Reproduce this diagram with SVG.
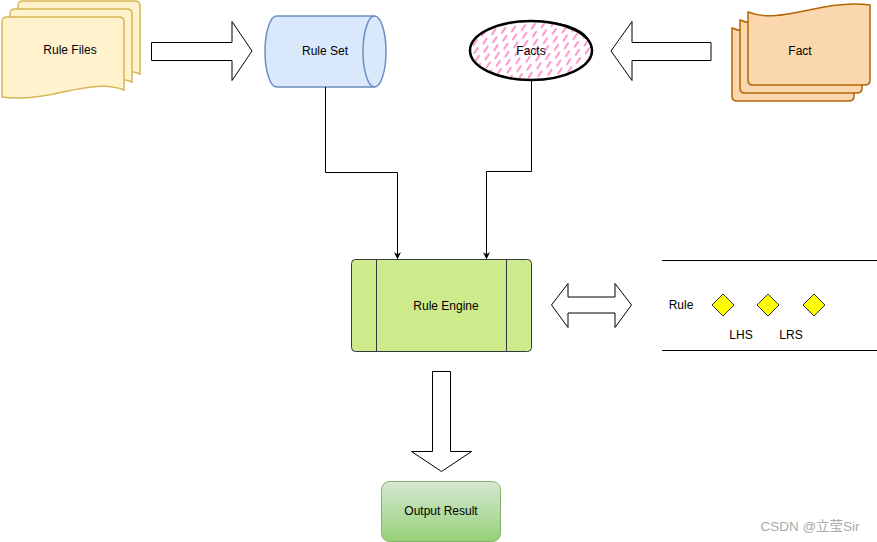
<svg xmlns="http://www.w3.org/2000/svg" width="877" height="542" viewBox="0 0 877 542">
<style>
text{font-family:"Liberation Sans",Arial,sans-serif;font-size:12px;fill:#000;text-anchor:middle;dominant-baseline:central}
.blk{fill:#fff;stroke:#000;stroke-width:1}
.conn{fill:none;stroke:#000;stroke-width:1}
.rf{fill:#fff2cc;stroke:#d6b656;stroke-width:1.5}
.ft{fill:#fad7ac;stroke:#b46504;stroke-width:1.5}
</style>
<defs>
<path id="page" d="M5,0 H117 Q122,0 122,5 V73 C105,66 85,70 61,75 C40,80 20,83 0,80 V5 Q0,0 5,0 Z"/>
<marker id="ah" viewBox="0 0 10 10" refX="9" refY="5" markerWidth="7" markerHeight="7" orient="auto" markerUnits="userSpaceOnUse"><path d="M0,0 L10,5 L0,10 L3,5 Z" fill="#000"/></marker>
<pattern id="hatch" width="10" height="8" patternUnits="userSpaceOnUse" patternTransform="rotate(-8)">
<line x1="2.5" y1="6.5" x2="6.5" y2="2" stroke="#ff80bf" stroke-width="1.8" stroke-linecap="round"/>
</pattern>
<linearGradient id="og" x1="0" y1="0" x2="0" y2="1"><stop offset="0" stop-color="#d5e8d4"/><stop offset="1" stop-color="#97d077"/></linearGradient>
</defs>

<g id="rule-files">
<use href="#page" x="18" y="1" class="rf"/>
<use href="#page" x="10" y="9" class="rf"/>
<use href="#page" x="2" y="17" class="rf"/>
<text x="70" y="50">Rule Files</text>
</g>

<g id="arrow-right">
<path class="blk" d="M151.5,42.5 H232 V21.5 L252,51 L232,80.5 V60.5 H151.5 Z"/>
</g>

<g id="rule-set">
<path d="M276.5,16 H374.5 A11.5,35.5 0 0 1 374.5,87 H276.5 A11.5,35.5 0 0 1 276.5,16 Z" fill="#dae8fc" stroke="#6c8ebf" stroke-width="1.5"/>
<path d="M374.5,16 A11.5,35.5 0 0 0 374.5,87" fill="none" stroke="#6c8ebf" stroke-width="1.5"/>
<text x="325" y="51">Rule Set</text>
</g>

<g id="facts">
<ellipse cx="531" cy="50.5" rx="61" ry="29.5" fill="#fff"/>
<ellipse cx="531" cy="50.5" rx="60" ry="28.5" fill="url(#hatch)"/>
<ellipse cx="531" cy="50.5" rx="61" ry="29.5" fill="none" stroke="#000" stroke-width="2.5"/>
<path d="M540,21.5 C565,22 590,30 591,48" fill="none" stroke="#000" stroke-width="1.2"/>
<text x="531" y="51">Facts</text>
</g>

<g id="arrow-left">
<path class="blk" d="M711,42.5 H632 V21.5 L611,51 L632,80.5 V60.5 H711 Z"/>
</g>

<g id="fact">
<use href="#page" transform="translate(854,101) rotate(180)" class="ft"/>
<use href="#page" transform="translate(862,93) rotate(180)" class="ft"/>
<use href="#page" transform="translate(870,85) rotate(180)" class="ft"/>
<text x="800" y="51">Fact</text>
</g>

<g id="connectors">
<path class="conn" d="M325.5,87 V172.5 H397.5 V258.5" marker-end="url(#ah)"/>
<path class="conn" d="M531.5,80 V171.5 H486.5 V258.5" marker-end="url(#ah)"/>
</g>

<g id="rule-engine">
<rect x="351.5" y="259.5" width="180" height="92" rx="4" fill="#cdeb8b" stroke="#36393d" stroke-width="1"/>
<line x1="376.5" y1="259.5" x2="376.5" y2="351.5" stroke="#36393d"/>
<line x1="506.5" y1="259.5" x2="506.5" y2="351.5" stroke="#36393d"/>
<text x="446" y="306">Rule Engine</text>
</g>

<g id="arrow-double">
<path class="blk" d="M551.5,305 L568,283.5 V297 H615 V283.5 L631.5,305 L615,327.5 V313 H568 V327.5 Z"/>
</g>

<g id="rule-panel">
<line x1="662" y1="260.5" x2="877" y2="260.5" stroke="#000"/>
<line x1="662" y1="350.5" x2="877" y2="350.5" stroke="#000"/>
<text x="681" y="305">Rule</text>
<path d="M723,294 L734,305 L723,316 L712,305 Z" fill="#ffff00" stroke="#333"/>
<path d="M768,294 L779,305 L768,316 L757,305 Z" fill="#ffff00" stroke="#333"/>
<path d="M814,294 L825,305 L814,316 L803,305 Z" fill="#ffff00" stroke="#333"/>
<text x="741" y="335">LHS</text>
<text x="791" y="335">LRS</text>
</g>

<g id="arrow-down">
<path class="blk" d="M432.5,371.5 H450.5 V451.5 H471.5 L441.5,471.5 L411.5,451.5 H432.5 Z"/>
</g>

<g id="output-result">
<rect x="381.5" y="481.5" width="119" height="60" rx="8" fill="url(#og)" stroke="#82b366"/>
<text x="441" y="511">Output Result</text>
</g>

<text x="810" y="526" style="font-family:'Liberation Sans','Noto Sans CJK SC',sans-serif;font-size:13.5px;fill:#aaa">CSDN @立莹Sir</text>
</svg>
